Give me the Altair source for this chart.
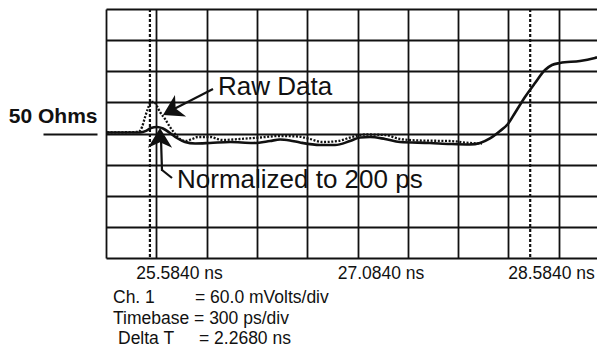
import altair as alt
import pandas as pd

# ---- graticule (oscilloscope screen: 10 x 300 ps, 8 x 60 mV) ----
time_ticks = [25.584, 25.884, 26.184, 26.484, 26.784, 27.084,
              27.384, 27.684, 27.984, 28.284, 28.584]
level_ticks = [-240, -180, -120, -60, 0, 60, 120, 180, 240]

# ---- traces (time in ns, level in mV relative to the 50 ohm line) ----
norm_name = "Normalized to 200 ps"
norm_t = [25.584, 25.787, 25.823, 25.852, 25.888, 25.924, 25.966, 26.007,
          26.055, 26.115, 26.204, 26.324, 26.461, 26.562, 26.622, 26.681,
          26.741, 26.860, 26.950, 27.039, 27.099, 27.159, 27.248, 27.337,
          27.516, 27.636, 27.755, 27.815, 27.874, 27.934, 27.981, 28.023,
          28.083, 28.143, 28.202, 28.244, 28.292, 28.411, 28.500, 28.584]
norm_mv = [2, 2, 5, 10.6, 12.5, 9.6, 1, -8.7,
           -16.4, -19.3, -18.3, -16.4, -18.3, -14.5, -11.6, -13.5,
           -17.4, -22.2, -22.2, -14.5, -7.7, -6.7, -10.6, -16.4,
           -18.3, -20.2, -21.2, -18.3, -9.6, 4.8, 18.3, 39.5,
           70.4, 97.4, 122.4, 132.1, 135.9, 139.8, 145.6, 153.3]

raw_name = "Raw Data"
raw_t = [25.590, 25.775, 25.799, 25.817, 25.835, 25.852, 25.870, 25.888,
         25.906, 25.936, 25.966, 25.996, 26.025, 26.061, 26.097, 26.133,
         26.204, 26.276, 26.383, 26.502, 26.622, 26.729, 26.801, 26.872,
         26.968, 27.051, 27.129, 27.248, 27.337, 27.457, 27.636, 27.755,
         27.826]
raw_mv = [2, 3, 12.5, 31.8, 49.2, 60.7, 60.7, 53.0,
          41.5, 28.0, 12.5, -1.0, -10.6, -14.5, -10.6, -6.7,
          -6.7, -12.5, -10.6, -7.7, -4.8, -5.8, -10.6, -16.4,
          -14.5, -6.7, -1.9, -2.9, -10.6, -13.5, -14.5, -18.3,
          -19.3]

# ---- cursors ----
cursor_t = [25.846, 28.114]

# ---- readout text ----
readout_ch = ("Ch. 1", "= 60.0 mVolts/div")
readout_tb = "Timebase = 300 ps/div"
readout_dt = ("Delta T", "= 2.2680 ns")

FONT = "Liberation Sans"

norm_df = pd.DataFrame({"t": norm_t, "mv": norm_mv})
raw_df = pd.DataFrame({"t": raw_t, "mv": raw_mv})
cur_df = pd.DataFrame({"t": cursor_t})
one = alt.Data(values=[{}])

xscale = alt.Scale(domain=[time_ticks[0], time_ticks[-1]], nice=False, zero=False)
yscale = alt.Scale(domain=[level_ticks[0], level_ticks[-1]], nice=False, zero=False)

x_axis = alt.Axis(
    values=time_ticks, tickCount=len(time_ticks) + 2,
    grid=True, gridColor="#111", gridWidth=1.8, gridOpacity=1,
    ticks=False, tickSize=0, domain=False, title=None,
    labelExpr="(datum.value < 25.6 || abs(datum.value - 27.084) < 0.01 || datum.value > 28.5) ? format(datum.value, '.4f') + ' ns' : ''",
    labelFont=FONT, labelFontSize=17.5, labelColor="#111",
    labelBaseline="alphabetic", labelPadding=20, labelAlign="center",
    labelFlush=False, labelOverlap=False, labelBound=False,
    labelOffset={"condition": [{"test": "datum.value < 25.6", "value": 73},
                               {"test": "datum.value > 28.5", "value": -58}],
                 "value": 23},
)
y_axis = alt.Axis(
    values=level_ticks, tickCount=len(level_ticks) + 2,
    grid=True, gridColor="#111", gridWidth=1.8, gridOpacity=1,
    domain=False, title=None, offset=9,
    ticks=True, tickSize=54, tickWidth=2, tickColor="#111",
    tickOpacity={"condition": {"test": "datum.value == 0", "value": 1}, "value": 0},
    labelExpr="datum.value == 0 ? '50 Ohms' : ''",
    labelFont=FONT, labelFontSize=21, labelFontWeight="bold", labelColor="#111",
    labelPadding=-54, labelBaseline="alphabetic", labelOffset=-11,
    labelOverlap=False, labelBound=False, labelFlush=False,
)

norm_line = alt.Chart(norm_df).mark_line(
    color="#111", strokeWidth=2.6, interpolate="monotone"
).encode(
    x=alt.X("t:Q", scale=xscale, axis=x_axis),
    y=alt.Y("mv:Q", scale=yscale, axis=y_axis),
)

raw_line = alt.Chart(raw_df).mark_line(
    color="#111", strokeWidth=2.3, strokeDash=[2, 1.6], interpolate="monotone"
).encode(x="t:Q", y="mv:Q")

cursors = alt.Chart(cur_df).mark_rule(
    color="#111", strokeWidth=2.2, strokeDash=[3, 2]
).encode(x="t:Q")

# ---- annotations (pixel positions inside the plot) ----
def rule(x1, y1, x2, y2):
    return alt.Chart(one).mark_rule(color="#111", strokeWidth=2.2).encode(
        x=alt.value(x1), y=alt.value(y1), x2=alt.value(x2), y2=alt.value(y2))

head_path = "M0,0 L1.1,1.8 L0,1.3 L-1.1,1.8 Z"

def head(x, y, ang):
    return alt.Chart(one).mark_point(
        shape=head_path, filled=True, color="#111", size=484, opacity=1,
        angle=ang, strokeWidth=0
    ).encode(x=alt.value(x), y=alt.value(y))

def label(x, y, txt, size, weight="normal"):
    return alt.Chart(one).mark_text(
        align="left", baseline="alphabetic", font=FONT, fontSize=size,
        fontWeight=weight, color="#111"
    ).encode(x=alt.value(x), y=alt.value(y), text=alt.value(txt))

annotations = [
    label(112, 86, raw_name, 26),
    rule(107, 80, 68, 100),
    head(57, 106, 242.5),
    label(71, 179, norm_name, 26),
    rule(66, 169, 56, 161),
    rule(56, 162, 55, 130),
    head(54, 119, 0),
    label(7, 294, readout_ch[0], 17.5),
    label(89, 294, readout_ch[1], 17.5),
    label(7, 315, readout_tb, 17.5),
    label(12, 335, readout_dt[0], 17.5),
    label(93, 335, readout_dt[1], 17.5),
]

chart = alt.layer(norm_line, raw_line, cursors, *annotations).properties(
    width=503, height=249,
    autosize=alt.AutoSizeParams(type="none"),
    padding={"left": 98, "top": 1, "right": -12, "bottom": 91},
    background="white",
).configure_view(stroke=None)

chart.save("out.html", embed_options={"renderer": "svg", "actions": False})
